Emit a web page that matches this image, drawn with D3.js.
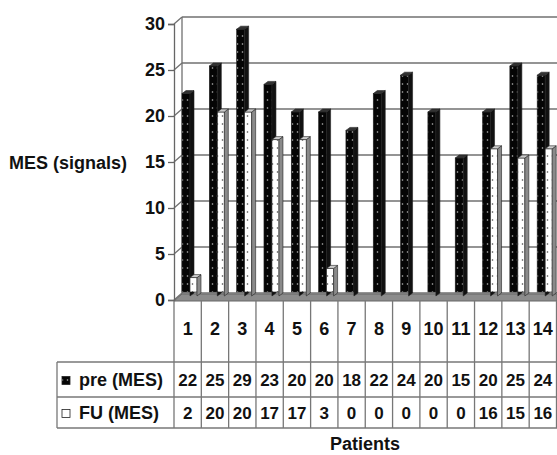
<html>
<script src='https://d3js.org/d3.v7.min.js'></script>
<style>
 body {margin:0; background:#fff;}
 text {font-family: 'Liberation Sans', Arial, sans-serif; font-weight: bold; fill: #111;}
 .grid {stroke: #707070; stroke-width: 1.3;}
 .tbl {stroke: #777; stroke-width: 1.3; fill: none;}
</style>
<body onload='init()'>
<svg width=557 height=455></svg>
<script>
// data
var patients = ["1","2","3","4","5","6","7","8","9","10","11","12","13","14"];
var preMES = [22, 25, 29, 23, 20, 20, 18, 22, 24, 20, 15, 20, 25, 24];
var fuMES  = [2, 20, 20, 17, 17, 3, 0, 0, 0, 0, 0, 16, 15, 16];
var seriesNames = ["pre (MES)", "FU (MES)"];
var yTicks = [0, 5, 10, 15, 20, 25, 30];

function init() {
  var svg = d3.select('svg');

  // patterns
  var defs = svg.append('defs');
  var pd = defs.append('pattern').attr('id', 'dotsBlack')
    .attr('patternUnits', 'userSpaceOnUse').attr('width', 5).attr('height', 8);
  pd.append('rect').attr('width', 5).attr('height', 8).attr('fill', '#050505');
  pd.append('circle').attr('cx', 2.5).attr('cy', 4).attr('r', 0.8).attr('fill', '#bbb');
  var pw = defs.append('pattern').attr('id', 'dotsWhite')
    .attr('patternUnits', 'userSpaceOnUse').attr('width', 5).attr('height', 8);
  pw.append('rect').attr('width', 5).attr('height', 8).attr('fill', '#fff');
  pw.append('circle').attr('cx', 2.5).attr('cy', 4).attr('r', 0.8).attr('fill', '#444');

  // scales
  var x = d3.scaleBand().domain(patients).range([174, 556.5]).padding(0);
  var y = d3.scaleLinear().domain([0, 30]).range([300, 24]);
  var wall = {dx: 8, dy: -7};
  var mid = -4;   // bars sit halfway into the depth

  // back wall gridlines
  svg.append('g').selectAll('line.h')
    .data(yTicks).enter().append('line').attr('class', 'grid')
    .attr('x1', 174 + wall.dx).attr('x2', 557)
    .attr('y1', function(d) { return y(d) + wall.dy; })
    .attr('y2', function(d) { return y(d) + wall.dy; });
  // side wall diagonals
  svg.append('g').selectAll('line.d')
    .data(yTicks).enter().append('line').attr('class', 'grid')
    .attr('x1', 174).attr('x2', 174 + wall.dx)
    .attr('y1', function(d) { return y(d); })
    .attr('y2', function(d) { return y(d) + wall.dy; });
  svg.append('line').attr('class', 'grid')
    .attr('x1', 174 + wall.dx).attr('x2', 174 + wall.dx)
    .attr('y1', y(30) + wall.dy).attr('y2', y(0) + wall.dy);

  // floor
  svg.append('path')
    .attr('d', 'M174,' + (y(0) + 1) + 'L' + (174 + wall.dx) + ',' + (y(0) + 1 + wall.dy) +
          'L557,' + (y(0) + 1 + wall.dy) + 'L557,' + (y(0) + 1) + 'Z')
    .attr('fill', '#8c8c8c').attr('stroke', '#666');

  // bars: front face + side + top
  var depth = 4, rise = 3;
  function bar3d(g, vals, offset, w, face, side, top) {
    var rows = vals.map(function(v, i) { return {p: patients[i], v: v}; })
      .filter(function(d) { return d.v > 0; });
    var sel = g.selectAll('g').data(rows).enter().append('g');
    sel.append('rect')
      .attr('x', function(d) { return x(d.p) + offset; })
      .attr('y', function(d) { return y(d.v) + mid; })
      .attr('width', w)
      .attr('height', function(d) { return y(0) + mid - y(d.v); })
      .attr('fill', face).attr('stroke', '#222').attr('stroke-width', 0.6);
    sel.append('path')
      .attr('d', function(d) {
        var x1 = x(d.p) + offset + w, yt = y(d.v) + mid, yb = y(0) + mid;
        return 'M' + x1 + ',' + yt + 'l' + depth + ',' + (-rise) + 'L' + (x1 + depth) + ',' + (yb - rise) +
               'L' + x1 + ',' + yb + 'Z';
      })
      .attr('fill', side).attr('stroke', '#222').attr('stroke-width', 0.6);
    sel.append('path')
      .attr('d', function(d) {
        var x0 = x(d.p) + offset, yt = y(d.v) + mid;
        return 'M' + x0 + ',' + yt + 'l' + depth + ',' + (-rise) + 'l' + w + ',0l' + (-depth) + ',' + rise + 'Z';
      })
      .attr('fill', top).attr('stroke', '#222').attr('stroke-width', 0.6);
  }
  bar3d(svg.append('g'), preMES, 8, 8, 'url(#dotsBlack)', '#111', '#333');
  bar3d(svg.append('g'), fuMES, 16, 7, 'url(#dotsWhite)', '#8a8a8a', '#ccc');

  // y axis
  var ax = svg.append('g').attr('transform', 'translate(174,0)')
    .call(d3.axisLeft(y).tickValues(yTicks).tickSize(6).tickPadding(3));
  ax.select('.domain').attr('stroke', '#666').attr('stroke-width', 1.3);
  ax.selectAll('.tick line').attr('stroke', '#666').attr('stroke-width', 1.3);
  ax.selectAll('.tick text').style('font-size', '18px').attr('fill', '#111')
    .style('font-family', "'Liberation Sans', Arial, sans-serif").style('font-weight', 'bold');

  svg.append('text').attr('x', 9).attr('y', 169).style('font-size', '18px').text('MES (signals)');

  // data table
  var rowTop = [301, 362, 397, 428];
  var t = svg.append('g');
  t.selectAll('line.v').data(patients.concat(['end'])).enter().append('line').attr('class', 'tbl')
    .attr('x1', function(d, i) { return 174 + i * x.bandwidth(); })
    .attr('x2', function(d, i) { return 174 + i * x.bandwidth(); })
    .attr('y1', rowTop[0]).attr('y2', rowTop[3]);
  t.selectAll('line.r').data(rowTop.slice(1)).enter().append('line').attr('class', 'tbl')
    .attr('x1', 57).attr('x2', 557).attr('y1', function(d) { return d; }).attr('y2', function(d) { return d; });
  t.append('line').attr('class', 'tbl').attr('x1', 57).attr('x2', 57).attr('y1', rowTop[1]).attr('y2', rowTop[3]);

  t.selectAll('text.c').data(patients).enter().append('text')
    .attr('x', function(d) { return x(d) + x.bandwidth() / 2; }).attr('y', 335)
    .attr('text-anchor', 'middle').style('font-size', '18px').text(function(d) { return d; });
  [preMES, fuMES].forEach(function(vals, r) {
    t.selectAll('text.r' + r).data(vals).enter().append('text')
      .attr('x', function(d, i) { return x(patients[i]) + x.bandwidth() / 2; })
      .attr('y', (rowTop[r + 1] + rowTop[r + 2]) / 2 + 6)
      .attr('text-anchor', 'middle').style('font-size', '17px').text(function(d) { return d; });
  });

  // legend keys
  var keyFill = ['url(#dotsBlack)', '#fff'];
  seriesNames.forEach(function(name, r) {
    var cy = (rowTop[r + 1] + rowTop[r + 2]) / 2;
    t.append('rect').attr('x', 62).attr('y', cy - 3).attr('width', 8).attr('height', 8)
      .attr('fill', keyFill[r]).attr('stroke', '#222').attr('stroke-width', 0.8);
    t.append('text').attr('x', 79).attr('y', cy + 6).style('font-size', '18px').text(name);
  });

  svg.append('text').attr('x', 365).attr('y', 450).attr('text-anchor', 'middle')
    .style('font-size', '18px').text('Patients');
}
</script>
</body>
</html>
